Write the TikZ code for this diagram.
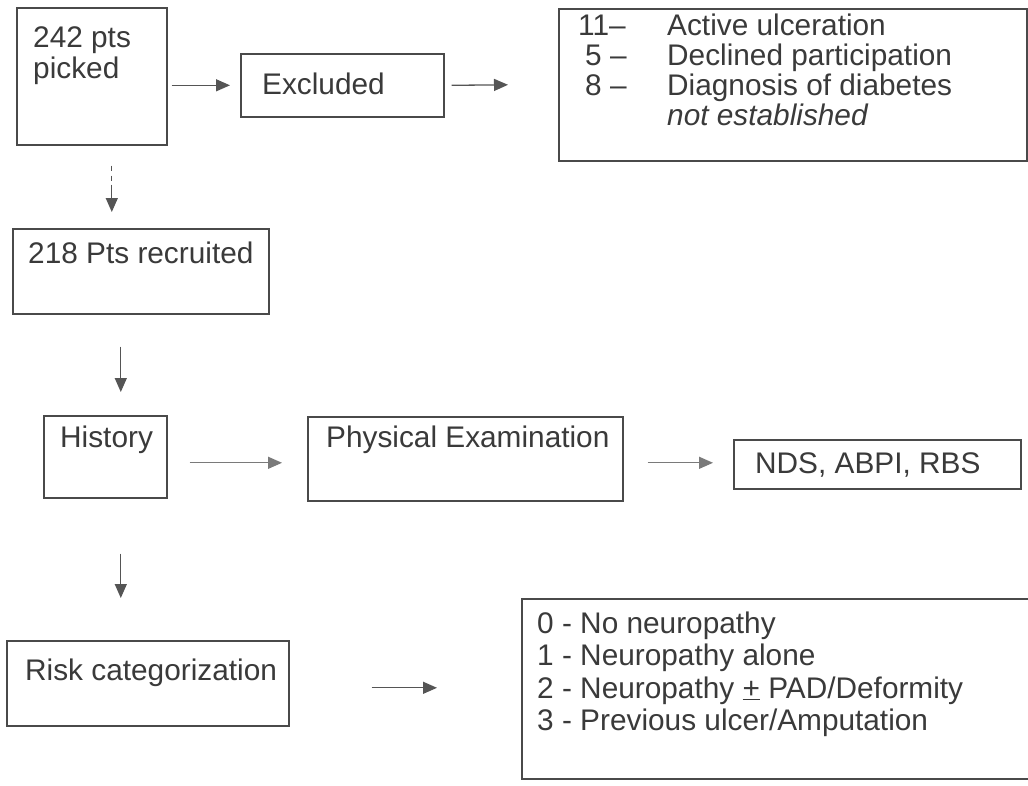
\documentclass[tikz,border=0pt]{standalone}
\usepackage{fontspec}
\setmainfont{Liberation Sans}
\usetikzlibrary{arrows.meta}
\definecolor{boxgray}{HTML}{4A4A4A}
\definecolor{txtgray}{HTML}{3A3A3A}
\definecolor{arrgray}{HTML}{555555}
\definecolor{lightarr}{HTML}{7A7A7A}
\begin{document}
\begin{tikzpicture}[x=1pt,y=-1pt,
  box/.style={draw=boxgray, line width=1.6pt, inner sep=0pt, anchor=north west},
  txt/.style={text=txtgray, font=\fontsize{29.8}{32}\selectfont, inner sep=0pt, anchor=base west},
  arr/.style={draw=arrgray, line width=1.3pt, -{Triangle[length=14pt,width=12pt]}},
  larr/.style={arr, draw=lightarr}]
\clip (0,0) rectangle (1028,785);
\fill[white] (0,0) rectangle (1028,785);
% boxes
\node[box, minimum width=150pt, minimum height=137pt] (b1) at (16,7) {};
\node[box, minimum width=203pt, minimum height=63pt] (bx) at (240,53) {};
\node[box, minimum width=468pt, minimum height=152pt] (bl) at (558,8) {};
\node[box, minimum width=256pt, minimum height=85pt] (br) at (12,228) {};
\node[box, minimum width=123pt, minimum height=82pt] (bh) at (43,415) {};
\node[box, minimum width=315pt, minimum height=84pt] (bp) at (307,416) {};
\node[box, minimum width=287pt, minimum height=49pt] (bn) at (733,439) {};
\node[box, minimum width=282pt, minimum height=85pt] (bk) at (6,640) {};
\node[box, minimum width=540pt, minimum height=180pt] (bc) at (521,598) {};
% texts
\node[txt] (t1a) at (33,47) {242 pts};
\node[txt] (t1b) at (33,78) {picked};
\node[txt] (tx) at (262,94) {Excluded};
\node[txt] (l1n) at (578,35) {11–};
\node[txt] (l1t) at (667,35) {Active ulceration};
\node[txt] (l2n) at (585,65) {5 –};
\node[txt] (l2t) at (667,65) {Declined participation};
\node[txt] (l3n) at (585,95) {8 –};
\node[txt] (l3t) at (667,95) {Diagnosis of diabetes};
\node[txt] (l4t) at (667,125) {\itshape not established};
\node[txt] (tr) at (28,263) {218 Pts recruited};
\node[txt] (th) at (60,447) {History};
\node[txt] (tp) at (326,447) {Physical Examination};
\node[txt] (tn) at (755,473) {NDS, ABPI, RBS};
\node[txt] (tk) at (25,680) {Risk categorization};
\node[txt] (c0) at (537,633) {0 - No neuropathy};
\node[txt] (c1) at (537,665) {1 - Neuropathy alone};
\node[txt] (c2) at (537,698) {2 - Neuropathy \underline{+}\ PAD/Deformity};
\node[txt] (c3) at (537,730) {3 - Previous ulcer/Amputation};
% connectors
\draw[arr] ([xshift=4pt]b1.east |- bx.west) -- ([xshift=-10pt]bx.west);
\draw[arr] ([xshift=7pt]bx.east) -- ([xshift=-50pt]bl.west);
\draw[arr, dash pattern=on 5pt off 5pt on 5pt off 4pt on 60pt] ([xshift=20pt,yshift=-20pt]b1.south) -- ([xshift=-29pt,yshift=16pt]br.north);
\draw[arr] ([xshift=-20pt,yshift=-32pt]br.south) -- ([xshift=15.5pt,yshift=23pt]bh.north);
\draw[larr] ([xshift=22pt,yshift=-6pt]bh.east) -- ([xshift=-25pt,yshift=-4pt]bp.west);
\draw[larr] ([xshift=24pt,yshift=-4pt]bp.east) -- ([xshift=-20pt,yshift=1.5pt]bn.west);
\draw[arr] ([xshift=15.5pt,yshift=-55pt]bh.south) -- ([xshift=-27pt,yshift=42pt]bk.north);
\draw[arr] ([xshift=82pt,yshift=-4.5pt]bk.east) -- ([xshift=-84pt,yshift=1pt]bc.west);
\end{tikzpicture}
\end{document}
